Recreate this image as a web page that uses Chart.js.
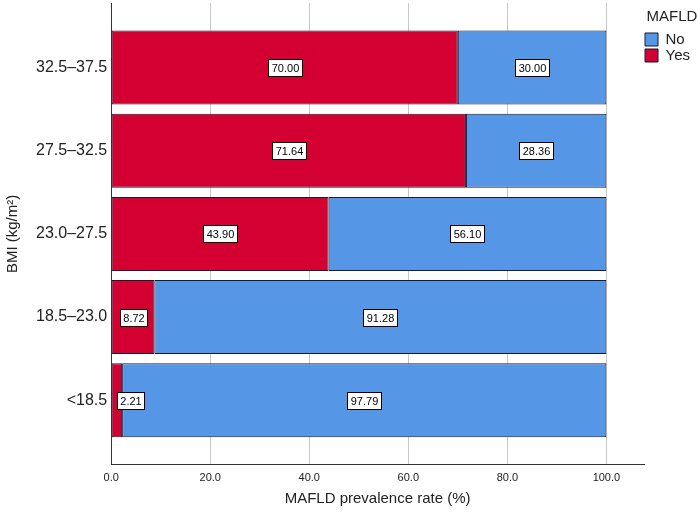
<!DOCTYPE html>
<html>
<head>
<meta charset="utf-8">
<script src="https://cdn.jsdelivr.net/npm/chart.js@4"></script>
<style>
  html, body { margin: 0; padding: 0; background: #fff; }
  #wrap { width: 700px; height: 516px; }
</style>
</head>
<body>
<div id="wrap"><canvas id="myChart" width="700" height="516"></canvas></div>
<script>
const categories = ["32.5–37.5", "27.5–32.5", "23.0–27.5", "18.5–23.0", "<18.5"];
const yesValues = [70.00, 71.64, 43.90, 8.72, 2.21];
const noValues = [30.00, 28.36, 56.10, 91.28, 97.79];
const xTicks = [0, 20, 40, 60, 80, 100];

const red = "rgb(213, 0, 50)";
const blue = "rgb(85, 150, 230)";
const font = "'Liberation Sans', Arial, sans-serif";

function points(values) {
  return values.map((v, i) => ({ x: v, y: i }));
}

// white boxed value labels, like the SPSS output
const boxLabels = {
  id: "boxLabels",
  afterDatasetsDraw(chart) {
    const ctx = chart.ctx;
    const left = chart.chartArea.left;
    ctx.save();
    ctx.font = "11px " + font;
    ctx.textAlign = "center";
    ctx.textBaseline = "middle";
    chart.data.datasets.forEach((ds, di) => {
      const meta = chart.getDatasetMeta(di);
      meta.data.forEach((bar, i) => {
        const text = ds.data[i].x.toFixed(2);
        const w = Math.round(ctx.measureText(text).width + 6);
        const h = 17;
        let cx = (bar.x + bar.base) / 2;
        if (cx - w / 2 < left + 6) cx = left + 6 + w / 2;
        const bx = Math.round(cx - w / 2) + 0.5;
        const by = Math.round(bar.y - h / 2) + 0.5;
        ctx.fillStyle = "#fff";
        ctx.fillRect(bx, by, w, h);
        ctx.strokeStyle = "#000";
        ctx.lineWidth = 1;
        ctx.strokeRect(bx, by, w, h);
        ctx.fillStyle = "#000";
        ctx.fillText(text, bx + w / 2, by + h / 2 + 0.5);
      });
    });
    ctx.restore();
  }
};

const data = {
  datasets: [
    {
      label: "Yes",
      data: points(yesValues),
      backgroundColor: red,
      borderColor: "#1a1a2e",
      borderWidth: 1,
      borderSkipped: false,
      barPercentage: 0.89,
      categoryPercentage: 1
    },
    {
      label: "No",
      data: points(noValues),
      backgroundColor: blue,
      borderColor: "#1a1a2e",
      borderWidth: 1,
      borderSkipped: false,
      barPercentage: 0.89,
      categoryPercentage: 1
    }
  ]
};

const config = {
  type: "bar",
  data,
  options: {
    indexAxis: "y",
    responsive: false,
    animation: false,
    layout: { padding: { top: 3, left: 4, right: 0, bottom: 8 } },
    scales: {
      x: {
        type: "linear",
        stacked: true,
        min: 0,
        max: 107.6,
        afterBuildTicks(scale) {
          scale.ticks = xTicks.map(v => ({ value: v }));
        },
        grid: { color: "#c8c8c8", drawTicks: false, lineWidth: 1 },
        border: { color: "#333", width: 1 },
        ticks: {
          padding: 7,
          color: "#222",
          font: { family: font, size: 11 },
          callback: v => v.toFixed(1)
        },
        title: {
          display: true,
          text: "MAFLD prevalence rate (%)",
          color: "#222",
          font: { family: font, size: 15 },
          padding: { top: -2, bottom: 0 }
        }
      },
      y: {
        type: "linear",
        stacked: true,
        reverse: true,
        offset: false,
        min: -0.777,
        max: 4.777,
        afterBuildTicks(scale) {
          scale.ticks = categories.map((c, i) => ({ value: i }));
        },
        afterFit(scale) {
          // tick labels sit well inside the axis, no edge room needed
          scale.paddingTop = 0;
          scale.paddingBottom = 0;
        },
        grid: { display: false, drawTicks: false },
        border: { color: "#333", width: 1 },
        ticks: {
          padding: 4,
          color: "#222",
          font: { family: font, size: 16 },
          callback: v => categories[v]
        },
        title: {
          display: true,
          text: "BMI (kg/m²)",
          color: "#222",
          font: { family: font, size: 15 },
          padding: { top: 0, bottom: 10 }
        }
      }
    },
    plugins: {
      legend: {
        position: "right",
        align: "start",
        reverse: true,
        title: {
          display: true,
          text: "MAFLD",
          color: "#222",
          font: { family: font, size: 15 },
          padding: { top: 6, bottom: 4 }
        },
        labels: {
          boxWidth: 13,
          boxHeight: 13,
          padding: 1,
          color: "#222",
          font: { family: font, size: 15 }
        }
      },
      tooltip: { enabled: false }
    }
  },
  plugins: [boxLabels]
};

new Chart(document.getElementById("myChart"), config);
</script>
</body>
</html>
